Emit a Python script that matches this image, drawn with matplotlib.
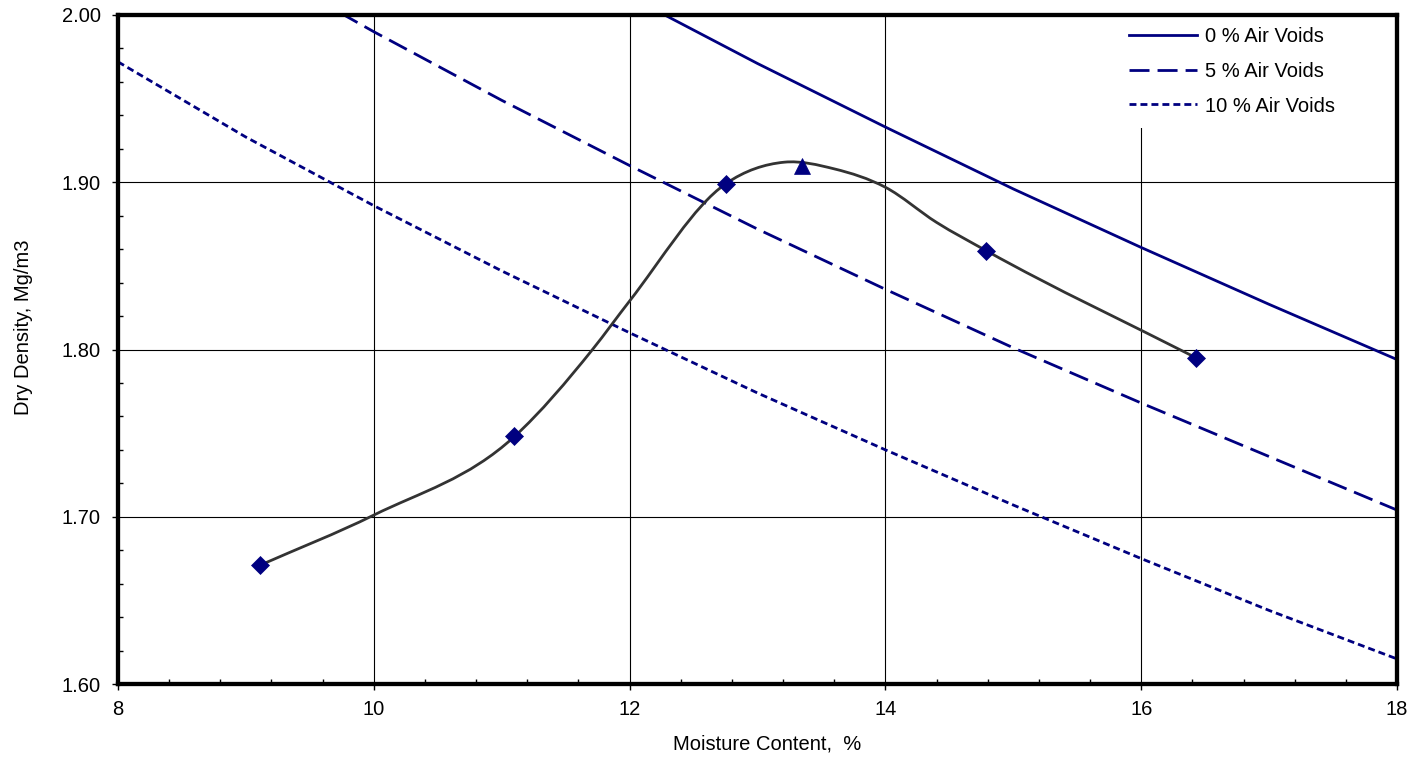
import matplotlib
matplotlib.use('Agg')
import matplotlib.pyplot as plt
from matplotlib.path import Path
from matplotlib.patches import PathPatch
from matplotlib.ticker import MultipleLocator, FormatStrFormatter
import numpy as np

plt.rcParams['font.family'] = ['Liberation Sans', 'DejaVu Sans']

# ---- data ----
moisture = [9.11, 11.10, 12.75, 14.79, 16.43]
density = [1.671, 1.748, 1.899, 1.859, 1.795]

opt_moisture = [13.35]
max_density = [1.910]

curve_moisture = [9.11, 10.0, 11.10, 11.71, 12.0, 12.75, 13.21, 13.60,
                  14.0, 14.40, 14.79, 16.43]
curve_density = [1.671, 1.701, 1.748, 1.800, 1.829, 1.899, 1.912, 1.908,
                 1.897, 1.876, 1.859, 1.795]

void_moisture = [8, 9, 10, 11, 12, 13, 14, 15, 16, 17, 18]
void0 = [2.186, 2.140, 2.095, 2.052, 2.011, 1.971, 1.933, 1.896, 1.861, 1.827, 1.794]
void5 = [2.077, 2.033, 1.990, 1.949, 1.910, 1.872, 1.836, 1.801, 1.768, 1.736, 1.704]
void10 = [1.972, 1.927, 1.886, 1.847, 1.810, 1.774, 1.740, 1.707, 1.675, 1.644, 1.615]

void_labels = ['0 % Air Voids', '5 % Air Voids', '10 % Air Voids']

x_label = 'Moisture Content,  %'
y_label = 'Dry Density, Mg/m3'

NAVY = '#000080'
FS = 14.5


def smooth_path(xs, ys):
    xs = np.asarray(xs, float)
    ys = np.asarray(ys, float)
    n = len(xs)
    h = np.diff(xs)
    d = np.diff(ys) / h
    m = np.empty(n)
    m[0] = d[0]
    m[-1] = d[-1]
    for i in range(1, n - 1):
        m[i] = (d[i - 1] * h[i] + d[i] * h[i - 1]) / (h[i - 1] + h[i])
    verts = [(xs[0], ys[0])]
    codes = [Path.MOVETO]
    for i in range(n - 1):
        verts += [(xs[i] + h[i] / 3, ys[i] + m[i] * h[i] / 3),
                  (xs[i + 1] - h[i] / 3, ys[i + 1] - m[i + 1] * h[i] / 3),
                  (xs[i + 1], ys[i + 1])]
        codes += [Path.CURVE4] * 3
    return Path(verts, codes)


fig = plt.figure(figsize=(14.24, 7.58), dpi=100)
L, R, T, B = 118, 1397, 15, 684
W, H = 1424, 758
ax = fig.add_axes([L / W, 1 - B / H, (R - L) / W, (B - T) / H])

ax.set_xlim(8, 18)
ax.set_ylim(1.60, 2.00)

# air void lines
l0, = ax.plot(void_moisture, void0, color=NAVY, lw=2.0, zorder=3)
l5, = ax.plot(void_moisture, void5, color=NAVY, lw=2.0, zorder=3,
              dashes=(7.2, 2.9))
l10, = ax.plot(void_moisture, void10, color=NAVY, lw=2.0, zorder=3,
               dashes=(2.5, 1.45))

# smoothed compaction curve
patch = PathPatch(smooth_path(curve_moisture, curve_density), facecolor='none',
                  edgecolor='#333333', lw=2.0, zorder=4, capstyle='round')
ax.add_patch(patch)

ax.plot(moisture, density, linestyle='none', marker='D', ms=9.2,
        color=NAVY, mec=NAVY, mew=0.5, zorder=5)
ax.plot(opt_moisture, max_density, linestyle='none', marker='^', ms=11,
        color=NAVY, mec=NAVY, mew=0.5, zorder=5)

# grid
ax.grid(True, which='major', color='black', lw=0.8, zorder=1)
ax.set_axisbelow(True)

# ticks
ax.xaxis.set_major_locator(MultipleLocator(2))
ax.xaxis.set_minor_locator(MultipleLocator(0.4))
ax.yaxis.set_major_locator(MultipleLocator(0.1))
ax.yaxis.set_minor_locator(MultipleLocator(0.02))
ax.yaxis.set_major_formatter(FormatStrFormatter('%.2f'))
ax.xaxis.set_major_formatter(FormatStrFormatter('%d'))
ax.tick_params(which='major', direction='out', length=4.5, width=1.0,
               color='black', labelsize=FS, pad=7)
ax.tick_params(axis='y', which='major', pad=8)
ax.tick_params(which='minor', direction='in', length=3.5, width=1.0,
               color='black')
ax.tick_params(top=False, right=False, which='both')

for s in ax.spines.values():
    s.set_linewidth(3.1)
    s.set_color('black')
    s.set_zorder(6)

# legend
leg = ax.legend([l0, l5, l10], void_labels, loc='upper left',
                bbox_to_anchor=((1117 - L) / (R - L), 1.0), borderaxespad=0,
                fontsize=FS, frameon=True, fancybox=False, framealpha=1,
                facecolor='white', edgecolor='none', handlelength=3.38,
                handletextpad=0.4, labelspacing=0.78, borderpad=0.6)
leg.set_zorder(5.5)

fig.text(673 / W, 1 - 744.5 / H, x_label, ha='left', va='center', fontsize=FS)
fig.text(24 / W, 1 - 327 / H, y_label, ha='center', va='center',
         rotation=90, fontsize=FS)

fig.savefig('out.png', dpi=100, facecolor='white')
